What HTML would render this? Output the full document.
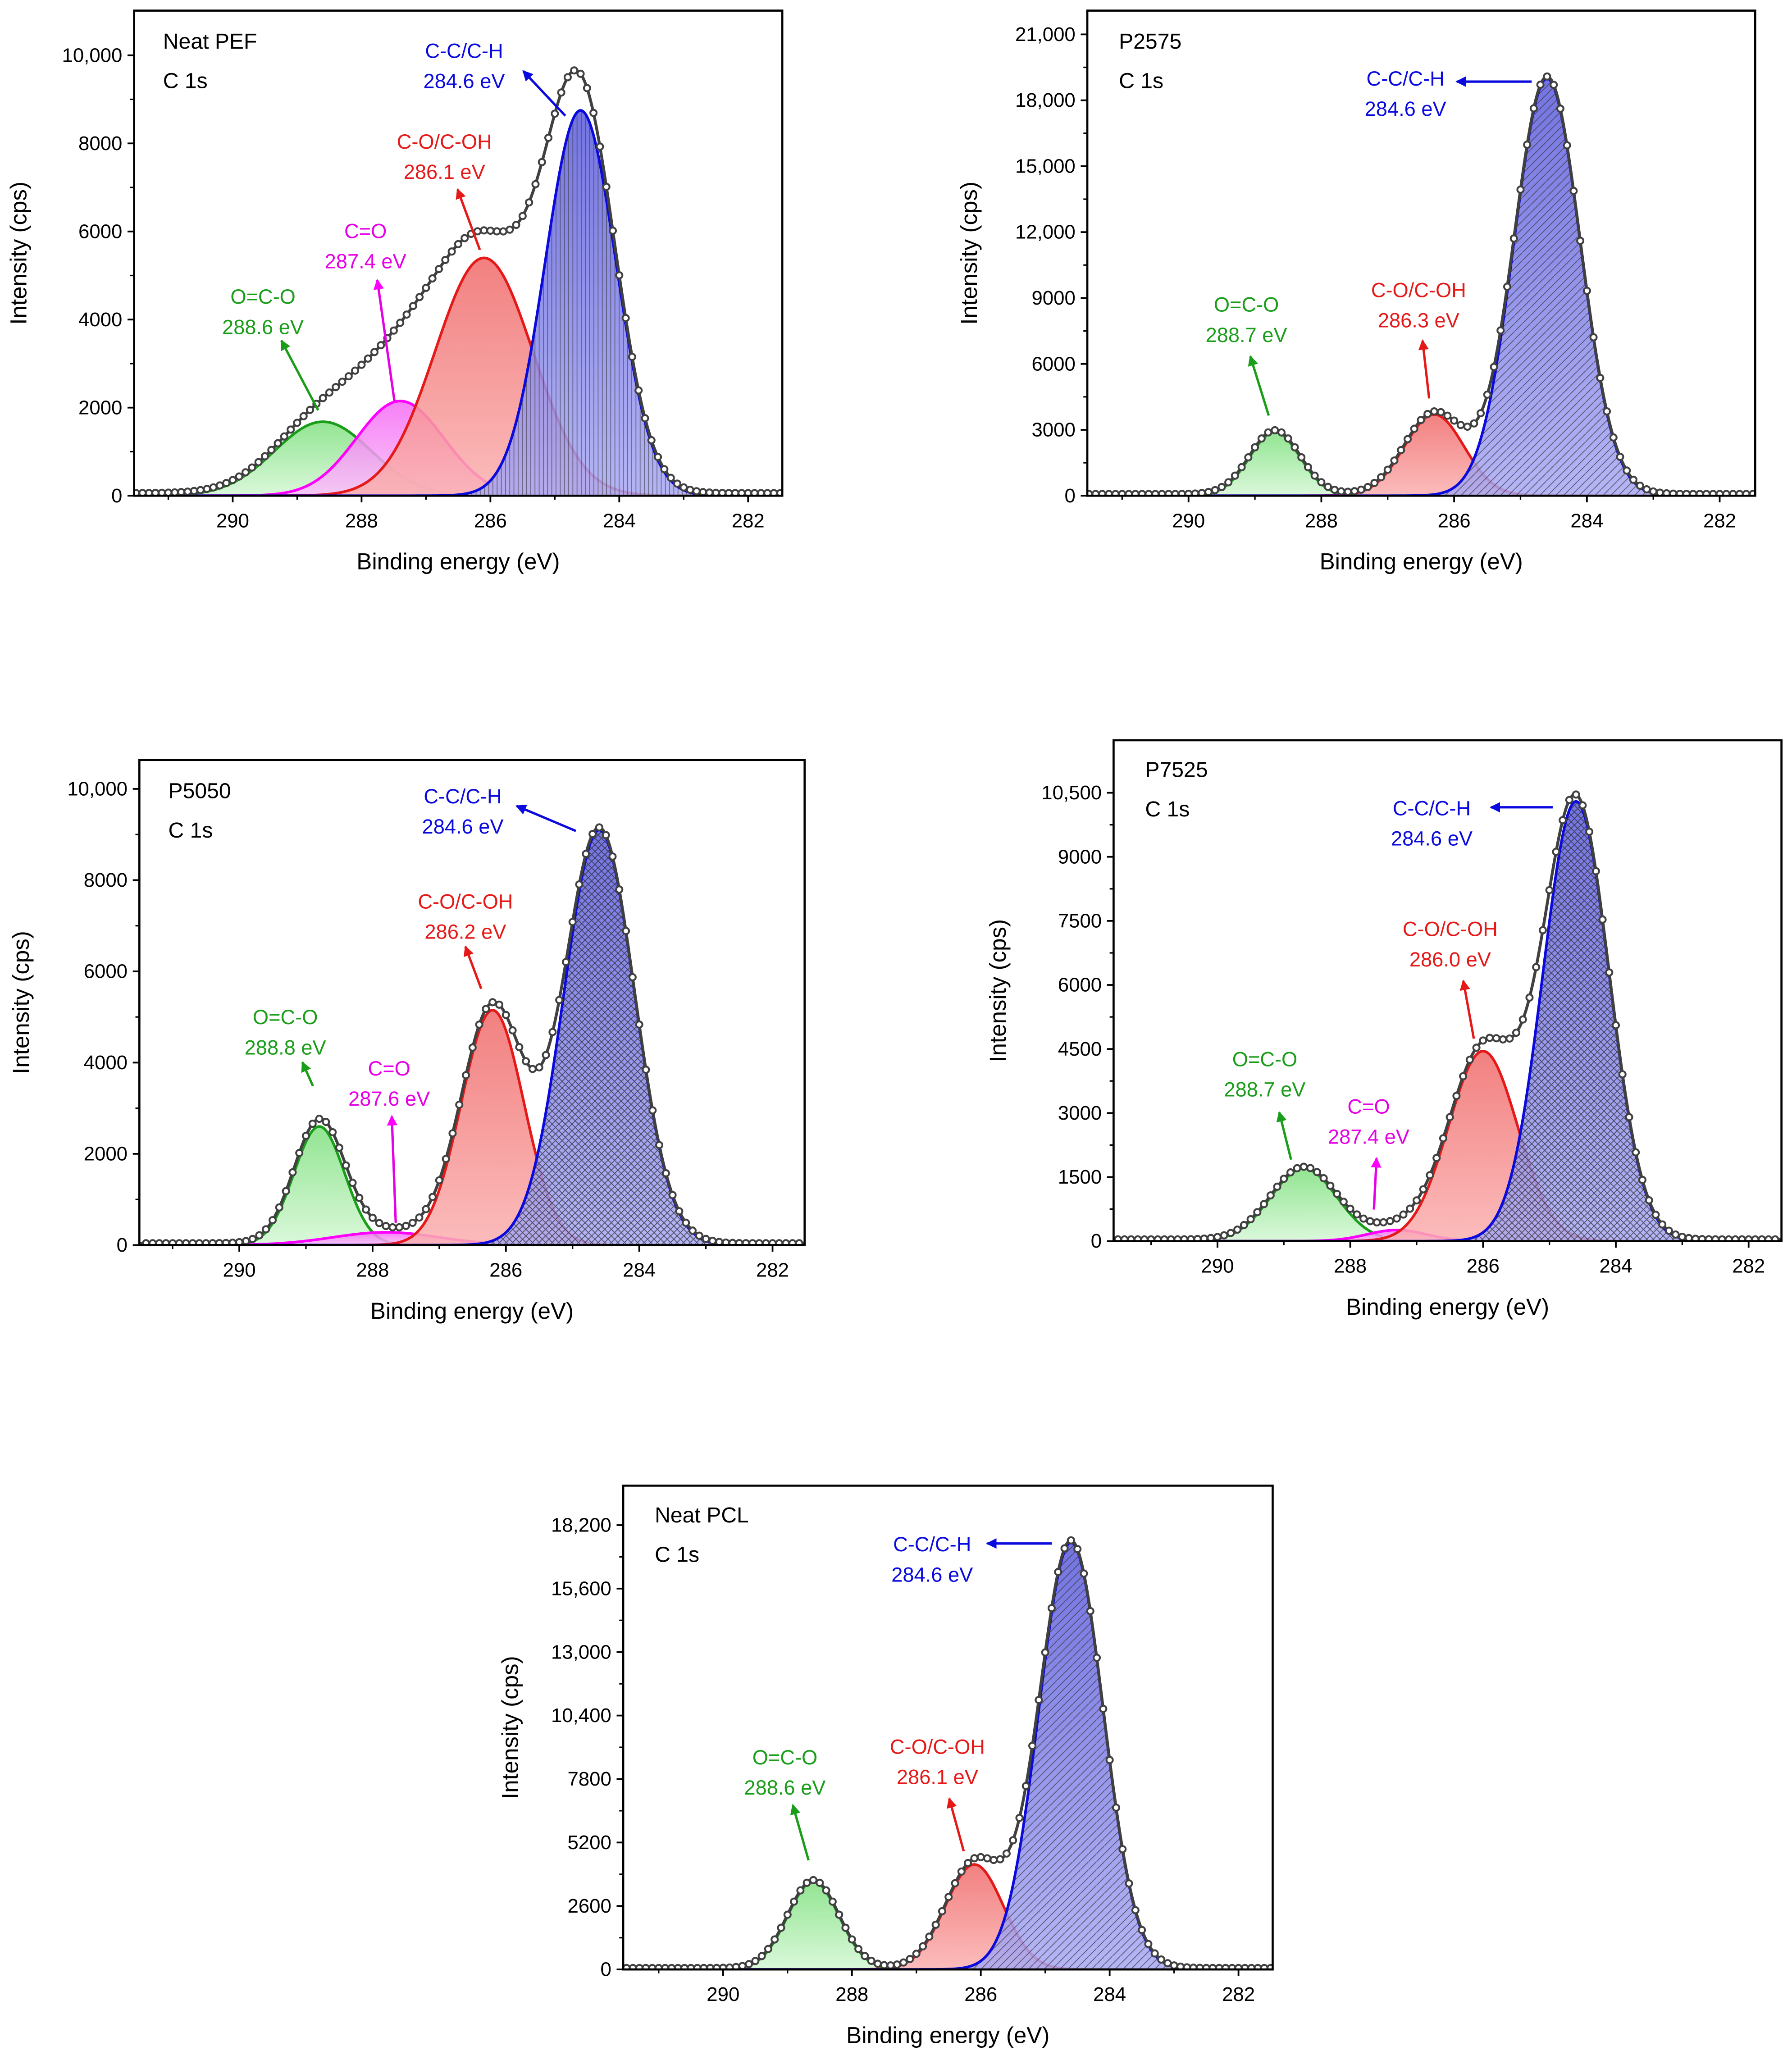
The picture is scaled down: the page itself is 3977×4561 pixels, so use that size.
<!DOCTYPE html>
<html><head><meta charset="utf-8"><style>
html,body{margin:0;padding:0;background:#fff}
svg{display:block}
text{font-family:"Liberation Sans",Arial,sans-serif}
</style></head><body>
<svg id="fig" xmlns="http://www.w3.org/2000/svg" width="3977" height="4561" viewBox="0 0 1363 1563">
<defs>
<linearGradient id="gBlue" x1="0" y1="0" x2="0" y2="1"><stop offset="0" stop-color="#5b5bdc"/><stop offset="1" stop-color="#a8a8f4"/></linearGradient>
<linearGradient id="gRed" x1="0" y1="0" x2="0" y2="1"><stop offset="0" stop-color="#f06a6a"/><stop offset="1" stop-color="#fbb0b0"/></linearGradient>
<linearGradient id="gGreen" x1="0" y1="0" x2="0" y2="1"><stop offset="0" stop-color="#7fe07f"/><stop offset="1" stop-color="#d4f7d4"/></linearGradient>
<linearGradient id="gMag" x1="0" y1="0" x2="0" y2="1"><stop offset="0" stop-color="#f56af5"/><stop offset="1" stop-color="#f9c0f9"/></linearGradient>
<pattern id="pVert" width="3.2" height="10" patternUnits="userSpaceOnUse"><line x1="0.5" y1="0" x2="0.5" y2="10" stroke="#333" stroke-opacity="0.6" stroke-width="0.6"/></pattern>
<pattern id="pDiag" width="6" height="6" patternUnits="userSpaceOnUse"><path d="M-1,7 L7,-1" stroke="#333" stroke-opacity="0.7" stroke-width="0.6"/></pattern>
<pattern id="pCross" width="5" height="5" patternUnits="userSpaceOnUse"><path d="M0,0 L5,5 M5,0 L0,5" stroke="#222" stroke-opacity="0.7" stroke-width="0.6"/></pattern>
<marker id="ahb" markerWidth="8" markerHeight="8" refX="7" refY="4" orient="auto" markerUnits="userSpaceOnUse"><path d="M0,0 L8,4 L0,8 z" fill="#0a0adf"/></marker>
<marker id="ahr" markerWidth="8" markerHeight="8" refX="7" refY="4" orient="auto" markerUnits="userSpaceOnUse"><path d="M0,0 L8,4 L0,8 z" fill="#e61919"/></marker>
<marker id="ahm" markerWidth="8" markerHeight="8" refX="7" refY="4" orient="auto" markerUnits="userSpaceOnUse"><path d="M0,0 L8,4 L0,8 z" fill="#f0f"/></marker>
<marker id="ahg" markerWidth="8" markerHeight="8" refX="7" refY="4" orient="auto" markerUnits="userSpaceOnUse"><path d="M0,0 L8,4 L0,8 z" fill="#1a9e1a"/></marker>
</defs>
</svg>
<script>
// ---- data: peak components (center eV, height cps, sigma eV) ----
const pefCenters=[288.6,287.4,286.1,284.6];
const pefHeights=[1680,2150,5400,8750];
const pefSigmas=[0.75,0.68,0.76,0.55];
const p2575Centers=[288.7,286.3,284.6];
const p2575Heights=[2900,3700,19000];
const p2575Sigmas=[0.38,0.45,0.5];
const p5050Centers=[288.8,287.8,286.2,284.6];
const p5050Heights=[2600,280,5150,9100];
const p5050Sigmas=[0.38,0.8,0.47,0.53];
const p7525Centers=[288.7,287.3,286.0,284.6];
const p7525Heights=[1700,260,4450,10300];
const p7525Sigmas=[0.5,0.45,0.52,0.5];
const pclCenters=[288.6,286.1,284.6];
const pclHeights=[3600,4300,17500];
const pclSigmas=[0.4,0.45,0.5];
const xTicks=[290,288,286,284,282];
const pefYTicks=[0,2000,4000,6000,8000,10000];
const pefYLabels=["0","2000","4000","6000","8000","10,000"];
const p2575YTicks=[0,3000,6000,9000,12000,15000,18000,21000];
const p2575YLabels=["0","3000","6000","9000","12,000","15,000","18,000","21,000"];
const p5050YTicks=[0,2000,4000,6000,8000,10000];
const p5050YLabels=["0","2000","4000","6000","8000","10,000"];
const p7525YTicks=[0,1500,3000,4500,6000,7500,9000,10500];
const p7525YLabels=["0","1500","3000","4500","6000","7500","9000","10,500"];
const pclYTicks=[0,2600,5200,7800,10400,13000,15600,18200];
const pclYLabels=["0","2600","5200","7800","10,400","13,000","15,600","18,200"];

const NS="http://www.w3.org/2000/svg";
const svg=document.getElementById('fig');
function mk(tag,attrs,parent){const e=document.createElementNS(NS,tag);for(const k in attrs)e.setAttribute(k,attrs[k]);(parent||svg).appendChild(e);return e;}
const compStyle={green:{stroke:"#1a9e1a",fill:"url(#gGreen)"},mag:{stroke:"#ff00ff",fill:"url(#gMag)"},red:{stroke:"#e61919",fill:"url(#gRed)"},blue:{stroke:"#0a0adf",fill:"url(#gBlue)"}};
const txtColor={green:"#1a9e1a",mag:"#e600e6",red:"#e61919",blue:"#0a0adf"};

function panel(cfg){
  const g=mk('g',{});
  
  
  const L=cfg.box[0],T=cfg.box[1],R=cfg.box[2],B=cfg.box[3];
  const xs=e=>cfg.x290+(290-e)*cfg.pxPerEv;
  const ys=v=>cfg.y0-v*cfg.yScale;
  const eL=290+(cfg.x290-L)/cfg.pxPerEv, eR=290-(R-cfg.x290)/cfg.pxPerEv;
  const clip=mk('clipPath',{id:'c'+cfg.name},g);mk('rect',{x:L,y:T,width:R-L,height:B-T},clip);
  const pg=mk('g',{'clip-path':'url(#c'+cfg.name+')'},g);
  const gauss=(i,e)=>cfg.h[i]*Math.exp(-Math.pow(e-cfg.c[i],2)/(2*cfg.s[i]*cfg.s[i]));
  const N=400;
  cfg.c.forEach((c,i)=>{
    const st=compStyle[cfg.cols[i]];
    let pts=[];
    for(let k=0;k<=N;k++){const e=eL-(eL-eR)*k/N;pts.push([xs(e),ys(gauss(i,e))]);}
    const d="M"+pts.map(p=>p[0].toFixed(2)+","+p[1].toFixed(2)).join(" L");
    const area=d+" L"+xs(eR)+","+ys(0)+" L"+xs(eL)+","+ys(0)+" Z";
    const a=mk('path',{d:area,fill:st.fill,'fill-opacity':0.85},pg);
    
    
    if(cfg.cols[i]==='blue'){const h=mk('path',{d:area,fill:cfg.hatch},pg);
      
      }
    const l=mk('path',{d:d,fill:'none',stroke:st.stroke,'stroke-width':2},pg);
    
    
  });
  const env=e=>cfg.c.reduce((s,_,i)=>s+gauss(i,e),0)+cfg.bg;
  let ep=[];for(let k=0;k<=N;k++){const e=eL-(eL-eR)*k/N;ep.push(xs(e).toFixed(2)+","+ys(env(e)).toFixed(2));}
  const el=mk('path',{d:"M"+ep.join(" L"),fill:'none',stroke:'#404040','stroke-width':2.2},pg);
  
  
  for(let e=Math.floor(eL*10)/10;e>=eR;e=Math.round((e-0.1)*10)/10){
    const p=mk('circle',{cx:xs(e),cy:ys(env(e)),r:2.4,fill:'#fff',stroke:'#404040','stroke-width':1.4},pg);
    
    
  }
  const fr=mk('rect',{x:L,y:T,width:R-L,height:B-T,fill:'none',stroke:'#000','stroke-width':1.6},g);
  
  
  xTicks.forEach(t=>{
    const x=xs(t);
    mk('line',{x1:x,y1:B,x2:x,y2:B+5,stroke:'#000','stroke-width':1.3},g);
    const tx=mk('text',{x:x,y:B+24,'text-anchor':'middle','font-size':15},g);tx.textContent=t;
    
    
    const mx=xs(t+1);if(mx>L&&mx<R)mk('line',{x1:mx,y1:B,x2:mx,y2:B+3,stroke:'#000','stroke-width':1.1},g);
  });
  const xm=xs(xTicks[4]-1);if(xm>L&&xm<R)mk('line',{x1:xm,y1:B,x2:xm,y2:B+3,stroke:'#000','stroke-width':1.1},g);
  cfg.yt.forEach((t,i)=>{
    const y=ys(t);
    mk('line',{x1:L,y1:y,x2:L-5,y2:y,stroke:'#000','stroke-width':1.3},g);
    const ty=mk('text',{x:L-9,y:y+5,'text-anchor':'end','font-size':15},g);ty.textContent=cfg.yl[i];
    
    
    if(i<cfg.yt.length-1){const ym=ys((t+cfg.yt[i+1])/2);mk('line',{x1:L,y1:ym,x2:L-3,y2:ym,stroke:'#000','stroke-width':1.1},g);}
  });
  const xt=mk('text',{x:(L+R)/2,y:B+56,'text-anchor':'middle','font-size':17.5},g);xt.textContent="Binding energy (eV)";
  
  
  const yc=(T+B)/2;
  const yt=mk('text',{x:cfg.yTitleX,y:yc,'text-anchor':'middle','font-size':17.5,transform:'rotate(-90 '+cfg.yTitleX+' '+yc+')'},g);yt.textContent="Intensity (cps)";
  
  
  const n1=mk('text',{x:cfg.title[0],y:cfg.title[1],'font-size':16.5},g);n1.textContent=cfg.titleText;
  
  
  const n2=mk('text',{x:cfg.title[0],y:cfg.title[1]+30,'font-size':16.5},g);n2.textContent="C 1s";
  
  
  cfg.ann.forEach(a=>{
    const col=txtColor[a.col];
    const t1=mk('text',{x:a.t[0],y:a.t[1],'text-anchor':'middle','font-size':15.5,fill:col},g);t1.textContent=a.l1;
    
    
    const t2=mk('text',{x:a.t[0],y:a.t[1]+23,'text-anchor':'middle','font-size':15.5,fill:col},g);t2.textContent=a.l2;
    
    
    const ar=mk('line',{x1:a.a[0],y1:a.a[1],x2:a.a[2],y2:a.a[3],stroke:col,'stroke-width':1.8,'marker-end':'url(#ah'+a.col[0]+')'},g);
    
    
  });
}

panel({name:'neat-pef',box:[102,8,595,377],x290:177,pxPerEv:49,y0:377,yScale:0.0335,c:pefCenters,h:pefHeights,s:pefSigmas,cols:['green','mag','red','blue'],hatch:'url(#pVert)',bg:60,yt:pefYTicks,yl:pefYLabels,yTitleX:20,title:[124,37],titleText:"Neat PEF",
 ann:[{col:'blue',l1:'C-C/C-H',l2:'284.6 eV',t:[353,44],a:[430,88,398,54]},
      {col:'red',l1:'C-O/C-OH',l2:'286.1 eV',t:[338,113],a:[365,190,348,144]},
      {col:'mag',l1:'C=O',l2:'287.4 eV',t:[278,181],a:[300,305,287,213]},
      {col:'green',l1:'O=C-O',l2:'288.6 eV',t:[200,231],a:[242,312,214,259]}]});
panel({name:'p2575',box:[827,8,1335,377],x290:904,pxPerEv:50.5,y0:377,yScale:0.01671,c:p2575Centers,h:p2575Heights,s:p2575Sigmas,cols:['green','red','blue'],hatch:'url(#pDiag)',bg:80,yt:p2575YTicks,yl:p2575YLabels,yTitleX:743,title:[851,37],titleText:"P2575",
 ann:[{col:'blue',l1:'C-C/C-H',l2:'284.6 eV',t:[1069,65],a:[1165,62,1108,62]},
      {col:'green',l1:'O=C-O',l2:'288.7 eV',t:[948,237],a:[965,316,951,271]},
      {col:'red',l1:'C-O/C-OH',l2:'286.3 eV',t:[1079,226],a:[1087,303,1082,259]}]});
panel({name:'p5050',box:[106,578,612,947],x290:182,pxPerEv:50.7,y0:947,yScale:0.0347,c:p5050Centers,h:p5050Heights,s:p5050Sigmas,cols:['green','mag','red','blue'],hatch:'url(#pCross)',bg:40,yt:p5050YTicks,yl:p5050YLabels,yTitleX:22,title:[128,607],titleText:"P5050",
 ann:[{col:'blue',l1:'C-C/C-H',l2:'284.6 eV',t:[352,611],a:[438,632,393,613]},
      {col:'red',l1:'C-O/C-OH',l2:'286.2 eV',t:[354,691],a:[366,752,354,720]},
      {col:'green',l1:'O=C-O',l2:'288.8 eV',t:[217,779],a:[238,826,230,808]},
      {col:'mag',l1:'C=O',l2:'287.6 eV',t:[296,818],a:[301,930,298,849]}]});
panel({name:'p7525',box:[847,563,1355,944],x290:926,pxPerEv:50.5,y0:944,yScale:0.03248,c:p7525Centers,h:p7525Heights,s:p7525Sigmas,cols:['green','mag','red','blue'],hatch:'url(#pCross)',bg:40,yt:p7525YTicks,yl:p7525YLabels,yTitleX:765,title:[871,591],titleText:"P7525",
 ann:[{col:'blue',l1:'C-C/C-H',l2:'284.6 eV',t:[1089,620],a:[1181,614,1134,614]},
      {col:'red',l1:'C-O/C-OH',l2:'286.0 eV',t:[1103,712],a:[1121,790,1113,746]},
      {col:'green',l1:'O=C-O',l2:'288.7 eV',t:[962,811],a:[982,882,973,846]},
      {col:'mag',l1:'C=O',l2:'287.4 eV',t:[1041,847],a:[1045,920,1047,881]}]});
panel({name:'neat-pcl',box:[474,1130,968,1498],x290:550,pxPerEv:49,y0:1498,yScale:0.01857,c:pclCenters,h:pclHeights,s:pclSigmas,cols:['green','red','blue'],hatch:'url(#pDiag)',bg:60,yt:pclYTicks,yl:pclYLabels,yTitleX:394,title:[498,1158],titleText:"Neat PCL",
 ann:[{col:'blue',l1:'C-C/C-H',l2:'284.6 eV',t:[709,1180],a:[800,1174,751,1174]},
      {col:'green',l1:'O=C-O',l2:'288.6 eV',t:[597,1342],a:[615,1415,603,1373]},
      {col:'red',l1:'C-O/C-OH',l2:'286.1 eV',t:[713,1334],a:[733,1408,722,1368]}]});
</script>
</body></html>
